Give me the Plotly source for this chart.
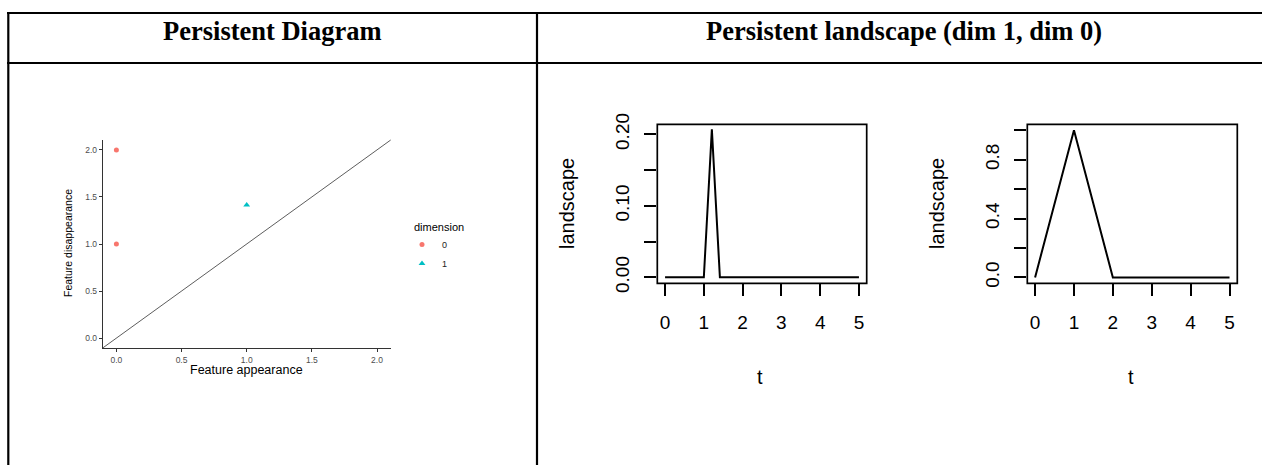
import plotly.graph_objects as go

W, H = 1262, 465

# ---------------- data ----------------
# Persistence diagram points
dim0_birth = [0.0, 0.0]
dim0_death = [2.0, 1.0]
dim1_birth = [1.0]
dim1_death = [1.414]

# Persistence landscape, dim 1 (vertices of the piecewise-linear curve)
land1_t = [0.0, 1.0, 1.207, 1.414, 5.0]
land1_v = [0.0, 0.0, 0.207, 0.0, 0.0]

# Persistence landscape, dim 0
land0_t = [0.0, 1.0, 2.0, 5.0]
land0_v = [0.0, 1.0, 0.0, 0.0]

pd_ticks = [0.0, 0.5, 1.0, 1.5, 2.0]
pd_ticklabels = ["0.0", "0.5", "1.0", "1.5", "2.0"]
t_ticks = [0, 1, 2, 3, 4, 5]
l1_ticks = [0.0, 0.05, 0.10, 0.15, 0.20]
l1_ticklabels = ["0.00", "", "0.10", "", "0.20"]
l0_ticks = [0.0, 0.2, 0.4, 0.6, 0.8, 1.0]
l0_ticklabels = ["0.0", "", "0.4", "", "0.8", ""]

headers = ["Persistent Diagram", "Persistent landscape (dim 1, dim 0)"]


def px(x):
    return x / W


def py(y):
    return 1 - y / H


fig = go.Figure()

# ---------------- persistence diagram (ggplot style) ----------------
fig.add_trace(go.Scatter(x=dim0_birth, y=dim0_death, mode="markers", name="0",
                         marker=dict(symbol="circle", size=5, color="#F8766D"),
                         xaxis="x", yaxis="y"))
fig.add_trace(go.Scatter(x=dim1_birth, y=dim1_death, mode="markers", name="1",
                         marker=dict(symbol="triangle-up", size=6, color="#00BFC4"),
                         xaxis="x", yaxis="y"))

# ---------------- landscapes (base R style) ----------------
fig.add_trace(go.Scatter(x=land1_t, y=land1_v, mode="lines", showlegend=False,
                         line=dict(color="black", width=2), xaxis="x2", yaxis="y2"))
fig.add_trace(go.Scatter(x=land0_t, y=land0_v, mode="lines", showlegend=False,
                         line=dict(color="black", width=2), xaxis="x3", yaxis="y3"))

gg_ax = dict(showgrid=False, zeroline=False, showline=True, linecolor="#333333",
             linewidth=1, ticks="outside", ticklen=3, tickcolor="#333333",
             tickfont=dict(family="Liberation Sans", size=8.5, color="#4D4D4D"),
             tickvals=pd_ticks, ticktext=pd_ticklabels, range=[-0.105, 2.105],
             fixedrange=True, automargin=False)

r_ax = dict(showgrid=False, zeroline=False, showline=False, ticks="outside",
            ticklen=12, tickwidth=1.5, tickcolor="black",
            tickfont=dict(family="Liberation Sans", size=19, color="black"),
            fixedrange=True, automargin=False)

fig.update_layout(
    width=W, height=H,
    margin=dict(l=0, r=0, t=0, b=0, autoexpand=False),
    paper_bgcolor="white", plot_bgcolor="white",
    font=dict(family="Liberation Sans", color="black"),
    xaxis=dict(domain=[px(102.7), px(390.7)], anchor="y", ticklabelstandoff=1, **gg_ax),
    yaxis=dict(domain=[py(348), py(140)], anchor="x", **gg_ax),
    xaxis2=dict(domain=[px(657.3), px(866.7)], anchor="y2", range=[-0.2, 5.2],
                tickvals=t_ticks, ticklabelstandoff=10, **r_ax),
    yaxis2=dict(domain=[py(283.3), py(124.3)], anchor="x2", range=[-0.0083, 0.214],
                tickvals=l1_ticks, ticktext=l1_ticklabels, tickangle=-90,
                ticklabelstandoff=8, **r_ax),
    xaxis3=dict(domain=[px(1027.3), px(1237.3)], anchor="y3", range=[-0.2, 5.2],
                tickvals=t_ticks, ticklabelstandoff=10, **r_ax),
    yaxis3=dict(domain=[py(283.3), py(124.3)], anchor="x3", range=[-0.04, 1.04],
                tickvals=l0_ticks, ticktext=l0_ticklabels, tickangle=-90,
                ticklabelstandoff=8, **r_ax),
    showlegend=True,
    legend=dict(x=px(402), y=py(230), xanchor="left", yanchor="top",
                font=dict(family="Liberation Sans", size=9, color="#222222"),
                bgcolor="rgba(0,0,0,0)", tracegroupgap=0, itemwidth=30),
)

shapes = []
# diagonal y = x across the panel (ranges identical on both axes)
shapes.append(dict(type="line", xref="x domain", yref="y domain", x0=0, y0=0, x1=1, y1=1,
                   line=dict(color="#333333", width=0.8)))
# R plot boxes
for xr, yr in [("x2", "y2"), ("x3", "y3")]:
    shapes.append(dict(type="rect", xref=xr + " domain", yref=yr + " domain",
                       x0=0, y0=0, x1=1, y1=1, line=dict(color="black", width=1.7)))
# table borders
lw = 2.2
shapes.append(dict(type="line", xref="paper", yref="paper", x0=px(7), x1=px(1262),
                   y0=py(13), y1=py(13), line=dict(color="black", width=lw)))
shapes.append(dict(type="line", xref="paper", yref="paper", x0=px(7), x1=px(1262),
                   y0=py(63), y1=py(63), line=dict(color="black", width=lw)))
shapes.append(dict(type="line", xref="paper", yref="paper", x0=px(8.3), x1=px(8.3),
                   y0=py(12), y1=py(465), line=dict(color="black", width=lw)))
shapes.append(dict(type="line", xref="paper", yref="paper", x0=px(537), x1=px(537),
                   y0=py(12), y1=py(465), line=dict(color="black", width=lw)))
fig.update_layout(shapes=shapes)

ann = []
ann.append(dict(text="<b>" + headers[0] + "</b>", x=px(272.5), y=py(31), xref="paper", yref="paper",
                showarrow=False, xanchor="center", yanchor="middle",
                font=dict(family="Liberation Serif", size=26.5, color="black")))
ann.append(dict(text="<b>" + headers[1] + "</b>", x=px(904), y=py(31), xref="paper", yref="paper",
                showarrow=False, xanchor="center", yanchor="middle",
                font=dict(family="Liberation Serif", size=26.5, color="black")))
# ggplot axis titles
ann.append(dict(text="Feature appearance", x=px(247), y=py(369.5), xref="paper", yref="paper",
                showarrow=False, xanchor="center", yanchor="middle",
                font=dict(family="Liberation Sans", size=12.5, color="black")))
ann.append(dict(text="Feature disappearance", x=px(68), y=py(243), xref="paper", yref="paper",
                showarrow=False, xanchor="center", yanchor="middle", textangle=-90,
                font=dict(family="Liberation Sans", size=10.5, color="black")))
ann.append(dict(text="dimension", x=px(412), y=py(227), xref="paper", yref="paper",
                showarrow=False, xanchor="left", yanchor="middle",
                font=dict(family="Liberation Sans", size=11, color="black")))
# R axis titles
for cx in [760, 1131]:
    ann.append(dict(text="t", x=px(cx), y=py(377), xref="paper", yref="paper",
                    showarrow=False, xanchor="center", yanchor="middle",
                    font=dict(family="Liberation Sans", size=20, color="black")))
for cx in [567, 937]:
    ann.append(dict(text="landscape", x=px(cx), y=py(204), xref="paper", yref="paper",
                    showarrow=False, xanchor="center", yanchor="middle", textangle=-90,
                    font=dict(family="Liberation Sans", size=20, color="black")))
fig.update_layout(annotations=ann)

fig.write_html("out.html",
               config={"displayModeBar": False},
               post_script="document.body.style.margin='0px';"
                           "document.body.style.overflow='hidden';")
